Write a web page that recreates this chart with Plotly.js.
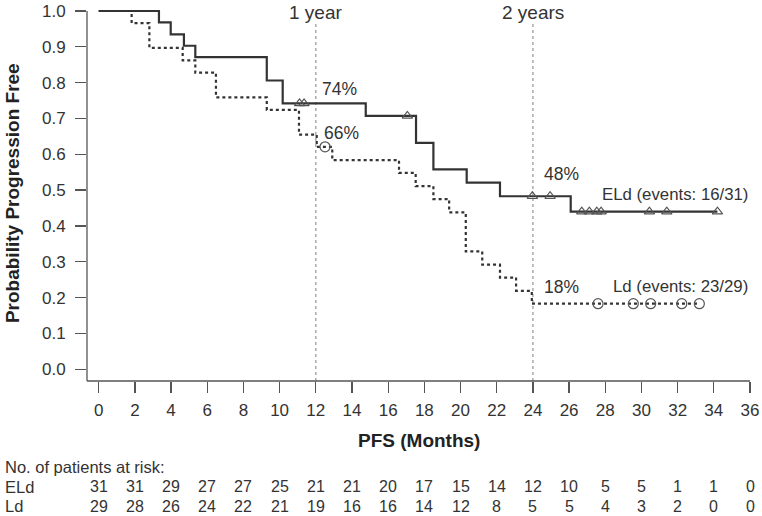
<!DOCTYPE html>
<html>
<head>
<meta charset="utf-8">
<script src="https://cdn.plot.ly/plotly-3.0.1.min.js"></script>
<style>html,body{margin:0;padding:0;background:#fff;}#chart{width:762px;height:516px;}</style>
</head>
<body>
<div id="chart"></div>
<script>
// ELd (solid) Kaplan-Meier step curve
const eldTimes = [0, 3.33, 3.98, 4.71, 5.34, 9.29, 10.17, 14.76, 17.54, 18.5, 20.34, 22.18, 26.09, 34.2];
const eldSurv  = [1.0, 0.968, 0.935, 0.903, 0.871, 0.806, 0.742, 0.707, 0.632, 0.558, 0.521, 0.483, 0.440, 0.440];
const eldCensT = [11.1, 11.35, 17.06, 23.97, 24.95, 26.7, 27.12, 27.53, 27.77, 30.44, 31.4, 34.2];
const eldCensS = [0.742, 0.742, 0.707, 0.483, 0.483, 0.440, 0.440, 0.440, 0.440, 0.440, 0.440, 0.440];
// Ld (dotted) Kaplan-Meier step curve
const ldTimes = [0, 1.82, 2.8, 4.64, 5.34, 6.48, 9.29, 11.07, 12.05, 12.91, 16.6, 17.52, 18.5, 19.37, 20.29, 21.2, 22.18, 23.07, 23.94, 33.2];
const ldSurv  = [1.0, 0.966, 0.897, 0.862, 0.828, 0.759, 0.724, 0.655, 0.621, 0.584, 0.548, 0.511, 0.475, 0.438, 0.329, 0.292, 0.256, 0.219, 0.183, 0.183];
const ldCensT = [12.51, 27.6, 29.55, 30.51, 32.23, 33.2];
const ldCensS = [0.621, 0.183, 0.183, 0.183, 0.183, 0.183];
// Axis ticks
const xTicks = [0, 2, 4, 6, 8, 10, 12, 14, 16, 18, 20, 22, 24, 26, 28, 30, 32, 34, 36];
const yTicks = [0.0, 0.1, 0.2, 0.3, 0.4, 0.5, 0.6, 0.7, 0.8, 0.9, 1.0];
// Number at risk
const riskTimes = [0, 2, 4, 6, 8, 10, 12, 14, 16, 18, 20, 22, 24, 26, 28, 30, 32, 34, 36];
const riskELd = [31, 31, 29, 27, 27, 25, 21, 21, 20, 17, 15, 14, 12, 10, 5, 5, 1, 1, 0];
const riskLd  = [29, 28, 26, 24, 22, 21, 19, 16, 16, 14, 12, 8, 5, 5, 4, 3, 2, 0, 0];
// Landmarks and labels
const landmarkX = [12, 24];
const landmarkText = ['1 year', '2 years'];
const pctX = [12.25, 12.35, 24.5, 24.5];
const pctY = [0.782, 0.660, 0.545, 0.231];
const pctText = ['74%', '66%', '48%', '18%'];
const groupLabelY = [0.487, 0.231];
const groupLabelText = ['ELd (events: 16/31)', 'Ld (events: 23/29)'];

const FONT = 'Liberation Sans, Arial, Helvetica, sans-serif';
const TXT = '#333';
const FS = 16.5;

const traces = [
  {x: eldTimes, y: eldSurv, mode: 'lines', line: {shape: 'hv', color: '#333', width: 2.2}, hoverinfo: 'skip', cliponaxis: false},
  {x: ldTimes, y: ldSurv, mode: 'lines', line: {shape: 'hv', color: '#333', width: 2.2, dash: 'dot'}, hoverinfo: 'skip', cliponaxis: false},
  {x: eldCensT, y: eldCensS, mode: 'markers', marker: {symbol: 'triangle-up-open', size: 9, color: '#555', line: {width: 1.2, color: '#555'}}, cliponaxis: false},
  {x: ldCensT, y: ldCensS, mode: 'markers', marker: {symbol: 'circle-open', size: 10, color: '#555', line: {width: 1.2, color: '#555'}}, cliponaxis: false}
];

const annotations = [];
landmarkX.forEach((x, i) => annotations.push({x: x, y: 0.997, xref: 'x', yref: 'y', text: landmarkText[i], showarrow: false, xanchor: 'center', yanchor: 'middle', font: {family: FONT, size: 19, color: TXT}}));
pctText.forEach((t, i) => annotations.push({x: pctX[i], y: pctY[i], xref: 'x', yref: 'y', text: t, showarrow: false, xanchor: 'left', yanchor: 'middle', font: {family: FONT, size: 17.5, color: TXT}}));
groupLabelText.forEach((t, i) => annotations.push({x: 36, y: groupLabelY[i], xref: 'x', yref: 'y', text: t, showarrow: false, xanchor: 'right', yanchor: 'middle', font: {family: FONT, size: 16.8, color: TXT}}));
// axis titles
annotations.push({x: 0.5, y: -0.159, xref: 'paper', yref: 'paper', text: '<b>PFS (Months)</b>', showarrow: false, xanchor: 'center', yanchor: 'middle', font: {family: FONT, size: 19, color: '#222'}});
annotations.push({x: -0.113, y: 0.492, xref: 'paper', yref: 'y', text: '<b>Probability Progression Free</b>', textangle: -90, showarrow: false, xanchor: 'center', yanchor: 'middle', font: {family: FONT, size: 19, color: '#222'}});
// risk table
const rowNo = -0.228, rowELd = -0.281, rowLd = -0.332;
annotations.push({x: -0.127, y: rowNo, xref: 'paper', yref: 'paper', text: 'No. of patients at risk:', showarrow: false, xanchor: 'left', yanchor: 'middle', font: {family: FONT, size: FS, color: TXT}});
annotations.push({x: -0.127, y: rowELd, xref: 'paper', yref: 'paper', text: 'ELd', showarrow: false, xanchor: 'left', yanchor: 'middle', font: {family: FONT, size: FS, color: TXT}});
annotations.push({x: -0.127, y: rowLd, xref: 'paper', yref: 'paper', text: 'Ld', showarrow: false, xanchor: 'left', yanchor: 'middle', font: {family: FONT, size: FS, color: TXT}});
riskTimes.forEach((t, i) => {
  annotations.push({x: t, y: rowELd, xref: 'x', yref: 'paper', text: String(riskELd[i]), showarrow: false, xanchor: 'center', yanchor: 'middle', font: {family: FONT, size: 16, color: TXT}});
  annotations.push({x: t, y: rowLd, xref: 'x', yref: 'paper', text: String(riskLd[i]), showarrow: false, xanchor: 'center', yanchor: 'middle', font: {family: FONT, size: 16, color: TXT}});
});

const shapes = [
  {type: 'line', xref: 'paper', yref: 'y', x0: 0, x1: 0, y0: -0.0327, y1: 1.0, line: {color: '#555', width: 1.3}},
  {type: 'line', xref: 'paper', yref: 'paper', x0: 0, x1: 1, y0: 0, y1: 0, line: {color: '#555', width: 1.3}}
];
landmarkX.forEach(x => shapes.push({type: 'line', xref: 'x', yref: 'y', x0: x, x1: x, y0: -0.0327, y1: 0.965, line: {color: '#aaa', width: 1.5, dash: 'dot'}, layer: 'below'}));

const layout = {
  width: 762, height: 516,
  margin: {l: 87, r: 12, t: 4, b: 135, pad: 0},
  paper_bgcolor: '#fff', plot_bgcolor: '#fff',
  showlegend: false,
  font: {family: FONT, size: FS, color: TXT},
  xaxis: {range: [-0.647, 36], tickvals: xTicks, ticktext: xTicks.map(String), ticks: 'outside', ticklen: 11, tickwidth: 1.3, tickcolor: '#555', showgrid: false, zeroline: false, showline: false, ticklabelstandoff: 3, tickfont: {family: FONT, size: 17, color: TXT}},
  yaxis: {range: [-0.0327, 1.0195], tickvals: yTicks, ticktext: yTicks.map(v => v.toFixed(1)), ticks: 'outside', ticklen: 11, tickwidth: 1.3, tickcolor: '#555', showgrid: false, zeroline: false, showline: false, ticklabelstandoff: 6, tickfont: {family: FONT, size: 17, color: TXT}},
  annotations: annotations,
  shapes: shapes
};

Plotly.newPlot('chart', traces, layout, {staticPlot: true, displayModeBar: false});
</script>
</body>
</html>
